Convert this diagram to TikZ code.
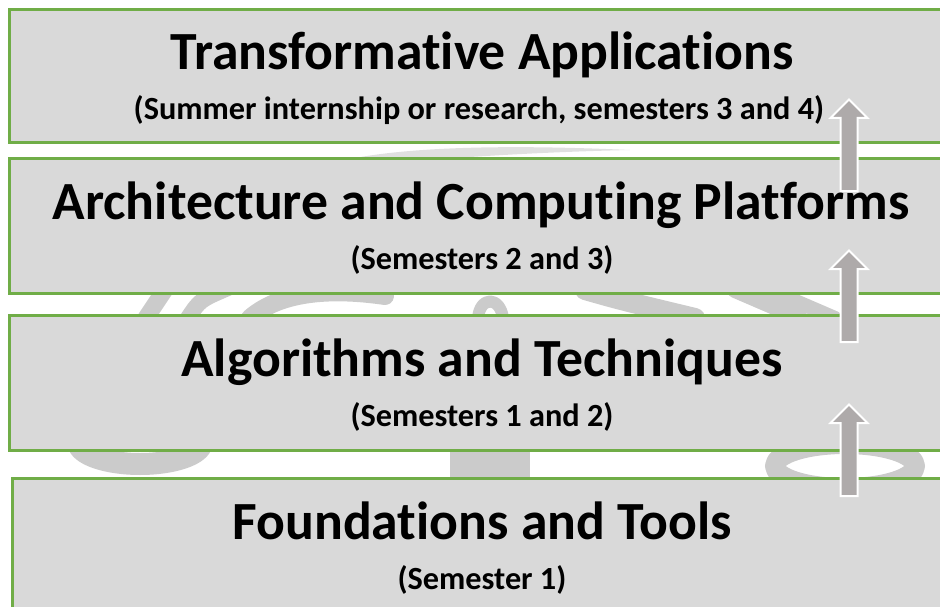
\documentclass[tikz,border=0pt]{standalone}
\usepackage{fontspec}
\setmainfont{Carlito}[Ligatures=NoCommon]
\begin{document}
\begin{tikzpicture}[x=1pt,y=-1pt,
  level/.style={draw=boxline, fill=boxfill, line width=2.8pt, rectangle, inner sep=0pt},
  title/.style={anchor=base, font=\fontsize{53.7}{60}\selectfont\bfseries, inner sep=0pt},
  subtitle/.style={anchor=base, font=\fontsize{32.3}{36}\selectfont\bfseries, inner sep=0pt},
  arrowbody/.style={fill=arrowfill, draw=white, line width=2pt, line join=miter},
  tree/.style={draw=logogray, line cap=round, line join=round},
  uparrow/.pic={\path[arrowbody] (-8.5,0) -- (-8.5,-73) -- (-18.5,-73) -- (0,-91.5) -- (18.5,-73) -- (8.5,-73) -- (8.5,0) -- cycle;}
]
\definecolor{boxfill}{HTML}{D9D9D9}
\definecolor{boxline}{HTML}{70AD47}
\definecolor{arrowfill}{HTML}{AEAAAA}
\definecolor{logogray}{HTML}{CBCBCB}

\useasboundingbox (0,0) rectangle (940,607);
\clip (0,0) rectangle (940,607);

% faint tree logo behind the levels
\fill[logogray!60] (355,158) .. controls (420,146) and (520,145) .. (630,150)
  .. controls (540,152) and (470,157) .. (440,159) -- cycle;
\draw[tree, line width=17pt] (146,318) -- (166,288);
\draw[tree, line width=16pt] (188,318) .. controls (200,300) .. (228,288);
\draw[tree, line width=18pt] (250,318) .. controls (280,292) and (330,288) .. (385,296);
\draw[tree, line width=12pt] (478,318) .. controls (480,296) and (500,296) .. (503,318);
\draw[tree, line width=20pt] (585,290) .. controls (620,300) .. (695,318);
\draw[tree, line width=16pt] (735,290) -- (800,318);
\draw[tree, line width=14pt] (770,290) -- (835,318);
\draw[tree, line width=22pt] (140,442) ellipse [x radius=62, y radius=22];
\fill[logogray] (450,440) rectangle (530,490);
\draw[tree, line width=20pt] (845,466) ellipse [x radius=70, y radius=22];

% the four levels, bottom one offset slightly to the right
\node[level, anchor=north west, minimum width=950, minimum height=133] (l4) at (8,8) {};
\node[level, anchor=north west, minimum width=950, minimum height=135] (l3) at (8,157) {};
\node[level, anchor=north west, minimum width=950, minimum height=135] (l2) at (8,314) {};
\node[level, anchor=north west, minimum width=950, minimum height=160] (l1) at (11,477) {};

% level titles
\node[title] (t4) at (482,70) {Transformative Applications};
\node[subtitle] (s4) at (479,120) {(Summer internship or research, semesters 3 and 4)};
\node[title] (t3) at (481,219) {Architecture and Computing Platforms};
\node[subtitle] (s3) at (482,269) {(Semesters 2 and 3)};
\node[title] (t2) at (482,376) {Algorithms and Techniques};
\node[subtitle] (s2) at (482,426) {(Semesters 1 and 2)};
\node[title] (t1) at (482,539) {Foundations and Tools};
\node[subtitle] (s1) at (482,589) {(Semester 1)};

% progression arrows from each level to the next
\coordinate (a1) at (849,496);
\coordinate (a2) at (849,342);
\coordinate (a3) at (849,191);
\pic at (a1) {uparrow};
\pic at (a2) {uparrow};
\pic at (a3) {uparrow};
\end{tikzpicture}
\end{document}
